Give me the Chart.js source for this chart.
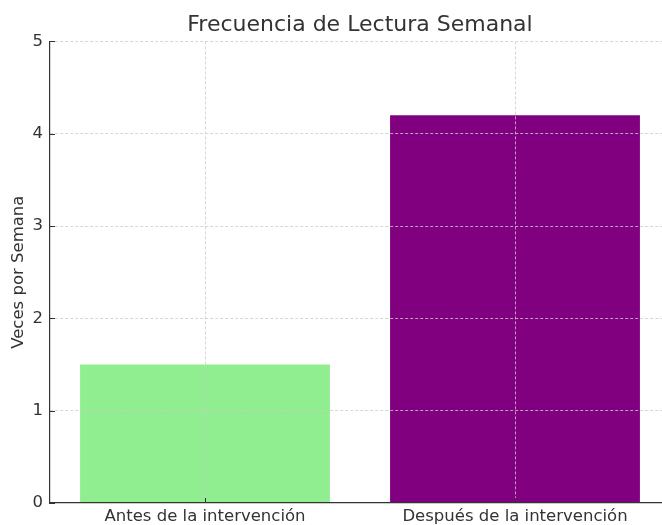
<!DOCTYPE html>
<html>
<head>
<meta charset="utf-8">
<script src="https://cdn.jsdelivr.net/npm/chart.js@4"></script>
<style>
    body { margin: 0; overflow: hidden; background: white; }
    #chart { display: block; }
</style>
</head>
<body>
<canvas id="chart" width="670" height="525"></canvas>
<script>
const categories = ["Antes de la intervención", "Después de la intervención"];
const values = [1.5, 4.2];
const barColors = ["lightgreen", "purple"];
const yTicks = [0, 1, 2, 3, 4, 5];

const fontFamily = "'DejaVu Sans', sans-serif";
const textColor = "#333333";

// matplotlib style inward tick marks
const innerTicks = {
    id: "innerTicks",
    afterDraw(chart) {
        const ctx = chart.ctx;
        const area = chart.chartArea;
        const x = chart.scales.x;
        const y = chart.scales.y;
        ctx.save();
        ctx.strokeStyle = "#333333";
        ctx.lineWidth = 1;
        ctx.beginPath();
        x.ticks.forEach((t, i) => {
            const px = Math.round(x.getPixelForTick(i)) + 0.5;
            ctx.moveTo(px, area.bottom);
            ctx.lineTo(px, area.bottom - 5);
        });
        yTicks.forEach((v) => {
            const py = Math.round(y.getPixelForValue(v)) + 0.5;
            ctx.moveTo(area.left, py);
            ctx.lineTo(area.left + 5, py);
        });
        ctx.stroke();
        ctx.restore();
    }
};

const ctx = document.getElementById("chart").getContext("2d");
new Chart(ctx, {
    type: "bar",
    data: {
        labels: categories,
        datasets: [{
            data: values,
            backgroundColor: barColors,
            borderWidth: 0,
            barPercentage: 0.806,
            categoryPercentage: 1.0
        }]
    },
    options: {
        responsive: false,
        animation: false,
        layout: { padding: 0 },
        plugins: {
            legend: { display: false },
            tooltip: { enabled: false },
            title: {
                display: true,
                text: "Frecuencia de Lectura Semanal",
                fullSize: false,
                color: textColor,
                font: { family: fontFamily, size: 22, weight: "normal", lineHeight: 1.2 },
                padding: { top: 12, bottom: 3 }
            }
        },
        scales: {
            x: {
                offset: true,
                grid: {
                    offset: false,
                    drawTicks: false,
                    color: "#cccccc",
                    lineWidth: 0.8,
                    z: 1
                },
                border: { color: "#333333", width: 1.2, dash: [3, 2], z: 1 },
                ticks: {
                    color: textColor,
                    padding: 4,
                    maxRotation: 0,
                    font: { family: fontFamily, size: 16.5 }
                },
                afterFit(scale) {
                    scale.height = 22;
                }
            },
            y: {
                min: 0,
                max: 5,
                afterBuildTicks(scale) {
                    scale.ticks = yTicks.map((v) => ({ value: v }));
                },
                grid: {
                    drawTicks: false,
                    color: "#cccccc",
                    lineWidth: 0.8,
                    z: 1
                },
                border: { color: "#333333", width: 1.2, dash: [3, 2], z: 1 },
                ticks: {
                    color: textColor,
                    padding: 7,
                    font: { family: fontFamily, size: 16.5 }
                },
                title: {
                    display: true,
                    text: "Veces por Semana",
                    color: textColor,
                    font: { family: fontFamily, size: 16.5, lineHeight: 1.2 },
                    padding: { top: 9, bottom: 0 }
                },
                afterFit(scale) {
                    scale.width = 50;
                }
            }
        }
    },
    plugins: [innerTicks]
});
</script>
</body>
</html>
